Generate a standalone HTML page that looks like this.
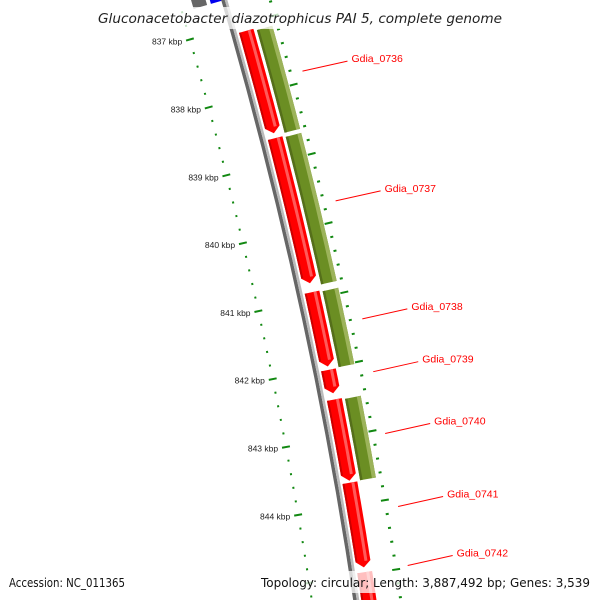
<!DOCTYPE html>
<html><head><meta charset="utf-8"><style>
html,body{margin:0;padding:0;background:#fff;width:600px;height:600px;overflow:hidden}
svg{display:block;font-family:"Liberation Sans","DejaVu Sans",sans-serif}
</style></head><body>
<svg id="map" width="600" height="600" viewBox="0 0 600 600" xmlns="http://www.w3.org/2000/svg">
<defs><clipPath id="clip"><rect x="0" y="0" width="600" height="600"/></clipPath></defs>
<g id="layer" clip-path="url(#clip)"></g>
<rect x="0" y="7" width="600" height="22" fill="#fff" fill-opacity="0.75"/>
<text x="98" y="23" textLength="404" lengthAdjust="spacingAndGlyphs" font-family="DejaVu Sans, sans-serif" font-size="13" font-style="italic" fill="#222">Gluconacetobacter diazotrophicus PAI 5, complete genome</text>
<rect x="0" y="571" width="600" height="22" fill="#fff" fill-opacity="0.75"/>
<text x="9" y="587" textLength="116" lengthAdjust="spacingAndGlyphs" font-family="DejaVu Sans, sans-serif" font-size="12" fill="#111">Accession: NC_011365</text>
<text x="261" y="587" textLength="329" lengthAdjust="spacingAndGlyphs" font-family="DejaVu Sans, sans-serif" font-size="12" fill="#111">Topology: circular; Length: 3,887,492 bp; Genes: 3,539</text>
</svg>
<script>
const tickLabels = [837,838,839,840,841,842,843,844];
const redStarts = [837.10,838.66,840.90,842.03,842.46,843.67,844.97];
const redEnds   = [838.59,840.77,841.98,842.37,843.64,844.90,845.9];
const greenStarts = [837.13,838.68,840.92,842.48];
const greenEnds   = [838.62,840.82,842.02,843.66];
const geneNames = ["Gdia_0736","Gdia_0737","Gdia_0738","Gdia_0739","Gdia_0740","Gdia_0741","Gdia_0742"];
const geneMids  = [837.85,839.72,841.42,842.18,843.07,844.12,844.97];

const NS="http://www.w3.org/2000/svg";
const layer=document.getElementById('layer');
function P(g,d){const t=g-837;const x0=188+19.3*t-0.55*t*t;const y0=40+67.9*t;
 const dx=19.3-1.1*t,dy=67.9,L=Math.hypot(dx,dy);return [x0+dy/L*d,y0-dx/L*d];}
function mk(tag,attrs){const e=document.createElementNS(NS,tag);for(const k in attrs)e.setAttribute(k,attrs[k]);layer.appendChild(e);return e;}
function band(g1,g2,d1,d2,tip){const pts=[];const n=12;
 const gEnd=tip?g2-0.09:g2;
 for(let i=0;i<=n;i++)pts.push(P(g1+(gEnd-g1)*i/n,d1));
 if(tip)pts.push(P(g2,(d1+d2)/2));
 for(let i=n;i>=0;i--)pts.push(P(g1+(gEnd-g1)*i/n,d2));
 return pts.map(p=>p[0].toFixed(1)+','+p[1].toFixed(1)).join(' ');}
function line(g,d1,d2,w,c){const a=P(g,d1),b=P(g,d2);return mk('line',{x1:a[0],y1:a[1],x2:b[0],y2:b[1],stroke:c,'stroke-width':w});}

let e=mk('polygon',{points:band(835.8,836.6,14,28,false),fill:'#666'});


e=mk('polygon',{points:band(835.8,836.6,32,46,false),fill:'#0000ee'});



e=mk('polygon',{points:band(836.2,846.3,43,46.5,false),fill:'#666'});


e=mk('polygon',{points:band(836.2,846.3,46.5,49,false),fill:'#bbb'});



for(let k=0;k<50;k++){const g=836.0+k*0.2;const major=(k%5===0);
 let t=line(g,major?-2:1,major?6:3,2,'#118811');
 
 
 t=line(g,major?86:88.5,major?94:91.5,2,'#118811');
 
 }
tickLabels.forEach(v=>{const p=P(v,-6);const t=mk('text',{x:p[0],y:p[1]+3,'text-anchor':'end','font-size':'8.5',fill:'#222'});
 t.textContent=v+' kbp';
 
 });

redStarts.forEach((s,i)=>{const en=redEnds[i];
 let p=mk('polygon',{points:band(s,en,51,66,true),fill:'#ff0000'});
 
 
 p=mk('polygon',{points:band(s,en-0.09,60,63,false),fill:'#ff5a5a'});
 
 
 p=mk('polygon',{points:band(s,en-0.09,51,53,false),fill:'#cc0000'});
 
 });
greenStarts.forEach((s,i)=>{const en=greenEnds[i];
 let p=mk('polygon',{points:band(s,en,69,85,false),fill:'#6b8e23'});
 
 
 p=mk('polygon',{points:band(s,en,81,85,false),fill:'#9cb35a'});
 
 
 p=mk('polygon',{points:band(s,en,69,71.5,false),fill:'#556f1a'});
 
 });

geneNames.forEach((nm,i)=>{const a=P(geneMids[i],102);const b=[a[0]+45,a[1]-10];
 const l=mk('line',{x1:a[0],y1:a[1],x2:b[0],y2:b[1],stroke:'#ff0000','stroke-width':1});
 
 
 const t=mk('text',{x:b[0]+4,y:b[1]+1,'font-size':'10.5',fill:'#ff0000'});
 t.textContent=nm;
 
 });
</script>
</body></html>
